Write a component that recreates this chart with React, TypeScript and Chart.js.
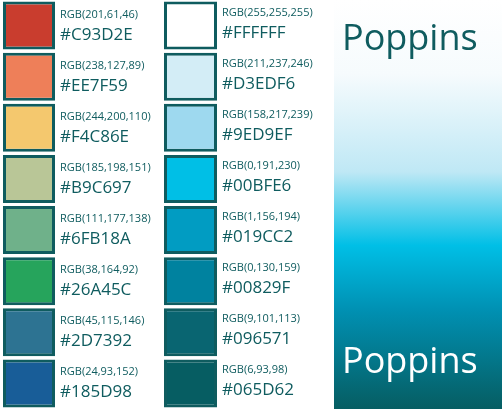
import React, { useEffect, useRef } from 'react';
import Chart from 'chart.js/auto';

const rows = ['1', '2', '3', '4', '5', '6', '7', '8'];
const leftHex = ['#C93D2E', '#EE7F59', '#F4C86E', '#B9C697', '#6FB18A', '#26A45C', '#2D7392', '#185D98'];
const leftRgb = ['RGB(201,61,46)', 'RGB(238,127,89)', 'RGB(244,200,110)', 'RGB(185,198,151)', 'RGB(111,177,138)', 'RGB(38,164,92)', 'RGB(45,115,146)', 'RGB(24,93,152)'];
const rightHex = ['#FFFFFF', '#D3EDF6', '#9ED9EF', '#00BFE6', '#019CC2', '#00829F', '#096571', '#065D62'];
const rightRgb = ['RGB(255,255,255)', 'RGB(211,237,246)', 'RGB(158,217,239)', 'RGB(0,191,230)', 'RGB(1,156,194)', 'RGB(0,130,159)', 'RGB(9,101,113)', 'RGB(6,93,98)'];
const leftSpan: [number, number] = [3, 55];
const rightSpan: [number, number] = [164, 217];
const teal = '#0f5c5f';

const App: React.FC = () => {
    const ref = useRef<HTMLCanvasElement>(null);

    useEffect(() => {
        document.body.style.margin = '0';
        const ctx = ref.current?.getContext('2d');
        if (!ctx) return;

        const decor = {
            id: 'decor',
            beforeDatasetsDraw(chart: any) {
                const c = chart.ctx;
                const g = c.createLinearGradient(0, 0, 0, 409);
                g.addColorStop(0, '#ffffff');
                g.addColorStop(0.18, '#f6fbfd');
                g.addColorStop(0.42, '#bfe8f5');
                g.addColorStop(0.6, '#00bfe6');
                g.addColorStop(0.76, '#0090b2');
                g.addColorStop(1, '#065d62');
                c.fillStyle = g;
                c.fillRect(334, 0, 168, 409);
            },
            afterDraw(chart: any) {
                const c = chart.ctx;
                const y = chart.scales.y;
                c.save();
                c.fillStyle = teal;
                c.textBaseline = 'alphabetic';
                rows.forEach((r, i) => {
                    const cy = y.getPixelForValue(i);
                    const top = cy - 24;
                    c.font = '11px "Open Sans", sans-serif';
                    c.fillText(leftRgb[i], 60, top + 16);
                    c.fillText(rightRgb[i], 222, top + 14);
                    c.font = '17px "Open Sans", sans-serif';
                    c.fillText(leftHex[i], 60, top + 38);
                    c.fillText(rightHex[i], 222, top + 36);
                });
                c.font = '500 36px "Open Sans", sans-serif';
                c.fillStyle = teal;
                c.fillText('Poppins', 342, 50);
                c.fillStyle = '#ffffff';
                c.fillText('Poppins', 342, 373);
                c.restore();
            },
        };

        const chart = new Chart(ctx, {
            type: 'bar',
            data: {
                labels: rows,
                datasets: [
                    {
                        data: rows.map(() => leftSpan) as any,
                        backgroundColor: leftHex,
                        borderColor: teal,
                        borderWidth: 3,
                        borderSkipped: false,
                        grouped: false,
                        barPercentage: 0.94,
                        categoryPercentage: 1,
                    },
                    {
                        data: rows.map(() => rightSpan) as any,
                        backgroundColor: rightHex,
                        borderColor: teal,
                        borderWidth: 3,
                        borderSkipped: false,
                        grouped: false,
                        barPercentage: 0.94,
                        categoryPercentage: 1,
                    },
                ],
            },
            options: {
                indexAxis: 'y',
                responsive: false,
                animation: false,
                layout: { padding: 0 },
                plugins: { legend: { display: false }, tooltip: { enabled: false } },
                scales: {
                    x: { type: 'linear', min: 0, max: 502, display: false },
                    y: { display: false, offset: true },
                },
            },
            plugins: [decor],
        });

        return () => chart.destroy();
    }, []);

    return <canvas ref={ref} width={502} height={409} style={{ display: 'block' }} />;
};

export default App;
